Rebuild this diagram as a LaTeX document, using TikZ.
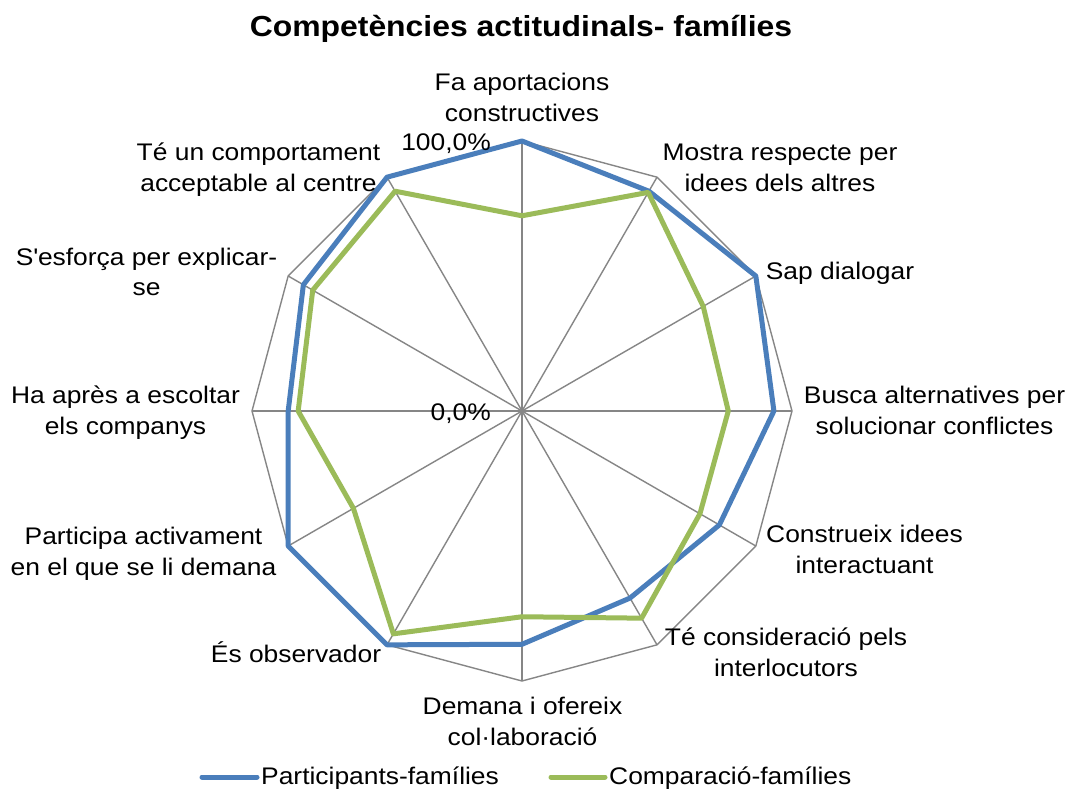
\documentclass[tikz,border=0pt]{standalone}
\usepackage{fontspec}
\setmainfont[FakeStretch=1.1]{Liberation Sans}
\usetikzlibrary{calc}
\definecolor{gridgray}{HTML}{868686}
\definecolor{serblue}{HTML}{4A7EBB}
\definecolor{sergreen}{HTML}{9BBB59}
\begin{document}
\begin{tikzpicture}[x=1pt,y=-1pt,
  gridline/.style={draw=gridgray,line width=1.4pt},
  serline/.style={line width=5pt,line join=round,line cap=round},
  lbl/.style={inner sep=0pt,align=center,font=\fontsize{24}{30.5}\selectfont},
  axlbl/.style={inner sep=0pt,anchor=east,font=\fontsize{24}{30.5}\selectfont},
  legtext/.style={inner sep=0pt,anchor=west,font=\fontsize{24}{30.5}\selectfont}]
\useasboundingbox (0,0) rectangle (1071,792);
\fill[white] (0,0) rectangle (1071,792);
\coordinate (C) at (522,411);
% grid
\foreach \k in {0,...,11}
  \coordinate (g\k) at ($(C)+({270*sin(30*\k)},{-270*cos(30*\k)})$);
\draw[gridline,line join=miter] (g0)--(g1)--(g2)--(g3)--(g4)--(g5)--(g6)--(g7)--(g8)--(g9)--(g10)--(g11)--cycle;
\foreach \k in {0,...,11} \draw[gridline] (C) -- (g\k);
% series
\foreach \k/\v in {0/1.00,1/0.94,2/1.00,3/0.933,4/0.844,5/0.80,6/0.864,7/1.00,8/1.00,9/0.866,10/0.935,11/1.00}
  \coordinate (b\k) at ($(C)+({270*\v*sin(30*\k)},{-270*\v*cos(30*\k)})$);
\foreach \k/\v in {0/0.723,1/0.935,2/0.775,3/0.764,4/0.761,5/0.886,6/0.762,7/0.953,8/0.721,9/0.829,10/0.895,11/0.94}
  \coordinate (s\k) at ($(C)+({270*\v*sin(30*\k)},{-270*\v*cos(30*\k)})$);
\draw[serline,serblue] (b0)--(b1)--(b2)--(b3)--(b4)--(b5)--(b6)--(b7)--(b8)--(b9)--(b10)--(b11)--cycle;
\draw[serline,sergreen] (s0)--(s1)--(s2)--(s3)--(s4)--(s5)--(s6)--(s7)--(s8)--(s9)--(s10)--(s11)--cycle;
% axis value labels
\node[axlbl] (max) at (491,144) {\strut 100,0\%};
\node[axlbl] (min) at (491,414) {\strut 0,0\%};
% category labels
\node[lbl] (l0) at (522,100) {\strut Fa aportacions\\\strut constructives};
\node[lbl] (l1) at (780,170) {\strut Mostra respecte per\\\strut idees dels altres};
\node[lbl] (l2) at (840,273) {\strut Sap dialogar};
\node[lbl] (l3) at (934.5,413) {\strut Busca alternatives per\\\strut solucionar conflictes};
\node[lbl] (l4) at (864.5,552) {\strut Construeix idees\\\strut interactuant};
\node[lbl] (l5) at (786,655) {\strut Té consideració pels\\\strut interlocutors};
\node[lbl] (l6) at (522.5,724) {\strut Demana i ofereix\\\strut col·laboració};
\node[lbl] (l7) at (296,656) {\strut És observador};
\node[lbl] (l8) at (143.5,554) {\strut Participa activament\\\strut en el que se li demana};
\node[lbl] (l9) at (125.5,413) {\strut Ha après a escoltar\\\strut els companys};
\node[lbl] (l10) at (146.5,274.5) {\strut S\textquotesingle esforça per explicar-\\\strut se};
\node[lbl] (l11) at (258.5,170) {\strut Té un comportament\\\strut acceptable al centre};
% title
\node[inner sep=0pt,font=\bfseries\fontsize{29}{35}\selectfont] (title) at (521,30) {\strut Competències actitudinals- famílies};
% legend
\coordinate (lb1) at (202,777);
\coordinate (lb2) at (257,777);
\coordinate (lg1) at (551,777);
\coordinate (lg2) at (605,777);
\draw[line width=5pt,serblue,line cap=round] (lb1) -- (lb2);
\draw[line width=5pt,sergreen,line cap=round] (lg1) -- (lg2);
\node[legtext] (leg1) at (261,778) {\strut Participants-famílies};
\node[legtext] (leg2) at (609,778) {\strut Comparació-famílies};
\end{tikzpicture}
\end{document}
